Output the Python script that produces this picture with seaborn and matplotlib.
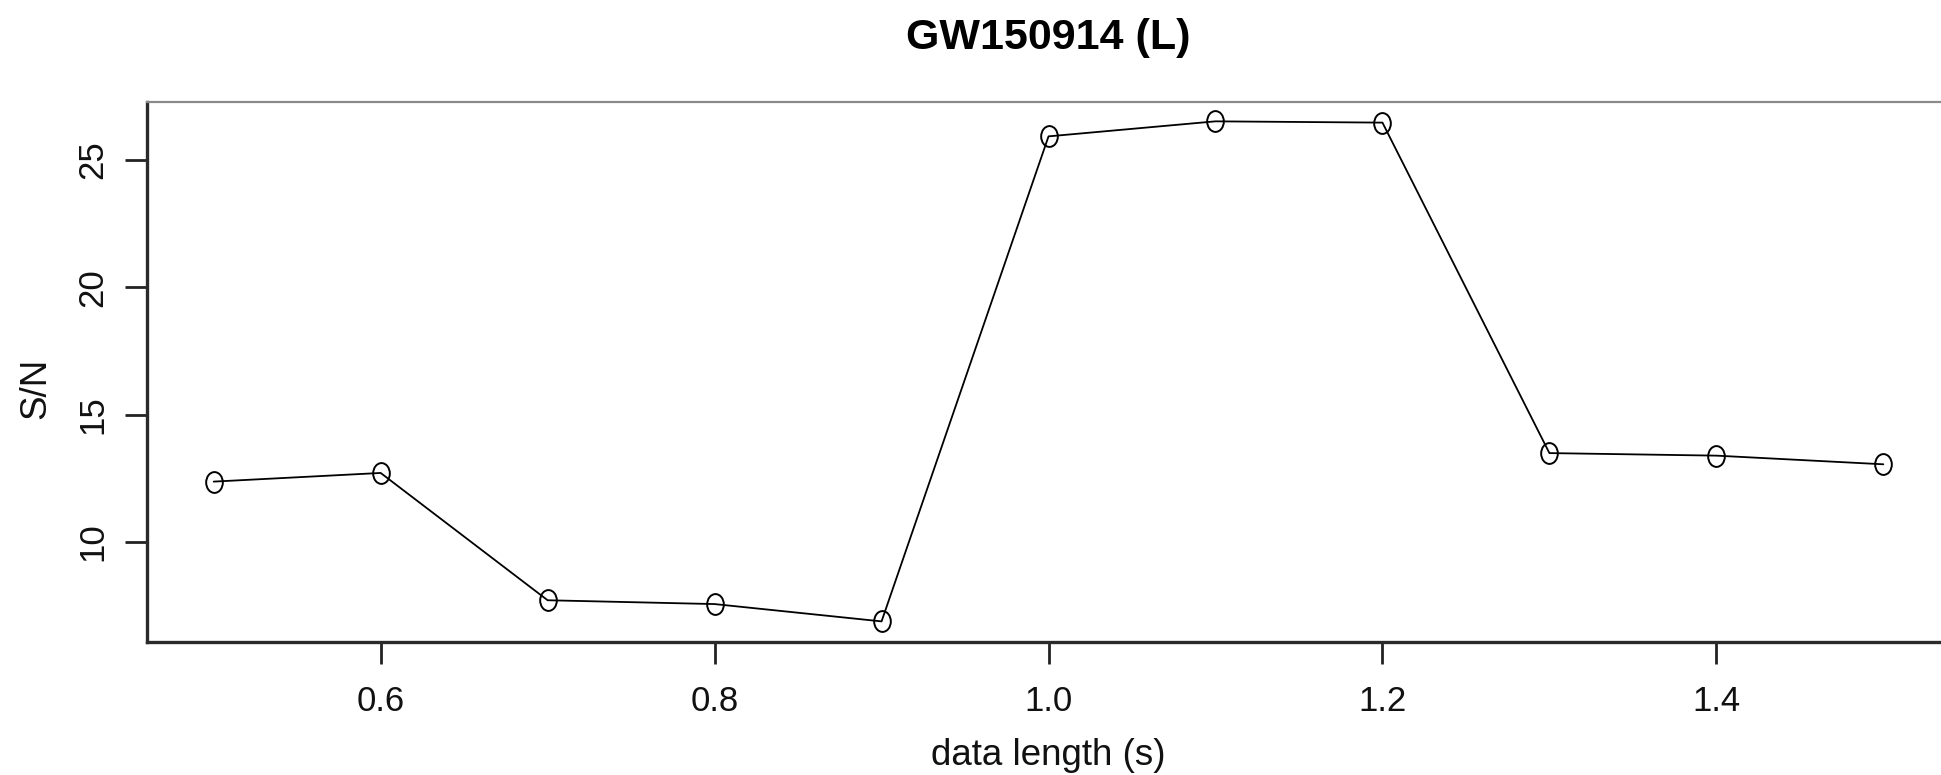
import numpy as np
import pandas as pd
import matplotlib
matplotlib.use("Agg")
import matplotlib.pyplot as plt
import seaborn as sns
from matplotlib.path import Path
from matplotlib.transforms import Affine2D

# S/N of the GW150914 Livingston signal against the length of analysed data
data_length = [0.5, 0.6, 0.7, 0.8, 0.9, 1.0, 1.1, 1.2, 1.3, 1.4, 1.5]
snr = [12.37, 12.71, 7.71, 7.56, 6.88, 25.93, 26.52, 26.47, 13.49, 13.39, 13.05]

x_ticks = [0.6, 0.8, 1.0, 1.2, 1.4]
x_tick_labels = ["0.6", "0.8", "1.0", "1.2", "1.4"]
y_ticks = [10, 15, 20, 25]
y_tick_labels = ["10", "15", "20", "25"]

sns.set_style("ticks")
plt.rcParams["font.family"] = ["Liberation Sans", "DejaVu Sans"]
plt.rcParams["text.color"] = "black"
plt.rcParams["axes.labelcolor"] = "black"

fig = plt.figure(figsize=(19.41, 7.75), dpi=100)
ax = fig.add_axes([0.0757, 0.1716, 0.929, 0.6968])

df = pd.DataFrame({"data length (s)": data_length, "S/N": snr})

# open, slightly tall circle markers
ring = Path.unit_circle().transformed(Affine2D().scale(0.8, 1.0))

sns.lineplot(
    data=df, x="data length (s)", y="S/N", ax=ax,
    color="black", linewidth=1.3, errorbar=None,
    marker=ring, markersize=15, markerfacecolor="none",
    markeredgecolor="black", markeredgewidth=1.4,
)

ax.set_xlim(0.46, 1.54)
ax.set_ylim(6.07, 27.28)
ax.set_xticks(x_ticks, x_tick_labels)
ax.set_yticks(y_ticks, y_tick_labels)

ax.tick_params(axis="both", direction="out", length=16, width=2,
               color="#222222", labelsize=25, labelcolor="#111111")
ax.tick_params(axis="x", pad=15)
ax.tick_params(axis="y", pad=11)
for lbl in ax.get_yticklabels():
    lbl.set_rotation(90)
    lbl.set_va("center")

for side in ("left", "bottom"):
    ax.spines[side].set_linewidth(2.4)
    ax.spines[side].set_color("#2a2a2a")
ax.spines["top"].set_linewidth(1.6)
ax.spines["top"].set_color("#8a8a8a")
ax.spines["right"].set_linewidth(1.6)
ax.spines["right"].set_color("#8a8a8a")

ax.set_title("GW150914 (L)", fontsize=31, fontweight="bold", pad=38, color="black")
ax.set_xlabel("data length (s)", fontsize=26.5, color="#111111")
ax.set_ylabel("S/N", fontsize=26.5, color="#111111")
ax.xaxis.set_label_coords(0.5, -0.178)
ax.yaxis.set_label_coords(-0.052, 0.47)

fig.savefig("out.png", dpi=100, facecolor="white")
